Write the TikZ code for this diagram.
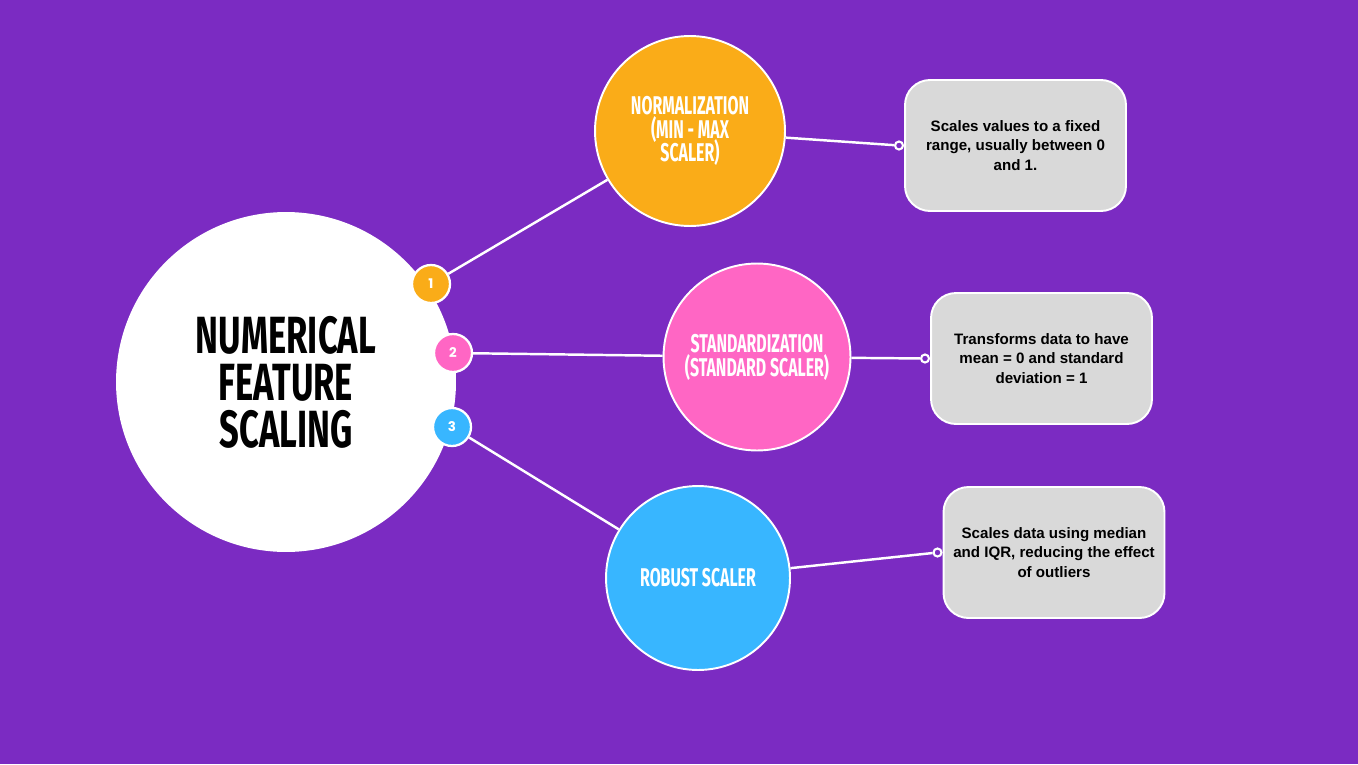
\documentclass[tikz,border=0pt]{standalone}
\usepackage{fontspec}
\setmainfont{Liberation Sans}
\newfontfamily\headfont[FakeStretch=0.66]{Fira Sans}
\newfontfamily\topicfont[FakeStretch=0.62]{Fira Sans}
\newfontfamily\numfont{Poppins}
\usetikzlibrary{positioning}
\definecolor{fsPurple}{RGB}{123,43,194}
\definecolor{fsOrange}{RGB}{250,172,24}
\definecolor{fsPink}{RGB}{255,102,196}
\definecolor{fsBlue}{RGB}{56,182,255}
\definecolor{fsGrey}{RGB}{217,217,217}
\lineskiplimit=-50pt
\tikzset{
 fs link/.style={draw=white,line width=1.4pt},
 fs hub/.style={circle,fill=white,minimum size=6.8cm,inner sep=0pt,align=center,
                font=\headfont\bfseries\fontsize{29.8}{26.8}\selectfont},
 fs topic/.style={circle,draw=white,line width=1.1pt,inner sep=0pt,align=center,
                  text=white,font=\topicfont\bfseries\fontsize{14.6}{13.6}\selectfont},
 fs badge/.style={circle,draw=white,line width=1.3pt,minimum size=.76cm,inner sep=0pt,
                  text=white,font=\numfont\bfseries\fontsize{7.6}{8}\selectfont},
 fs box/.style={rectangle,rounded corners=.5cm,draw=white,line width=1.1pt,fill=fsGrey,
                minimum width=4.42cm,minimum height=2.62cm,align=center,
                font=\bfseries\fontsize{8.6}{11.3}\selectfont},
 fs dot/.style={circle,draw=white,fill=fsPurple,line width=1.2pt,minimum size=.16cm,
                inner sep=0pt}
}
\begin{document}
\begin{tikzpicture}[x=.02cm,y=-.02cm]
 \fill[fsPurple] (0,0) rectangle (1358,764);
 \useasboundingbox (0,0) rectangle (1358,764);
 \node[fs hub] (hub) at (286,382) {NUMERICAL\\FEATURE\\SCALING};
 % scalers
 \node[fs topic,fill=fsOrange,minimum size=3.8cm] (norm) at (690,131)
   {NORMALIZATION\\(MIN - MAX\\SCALER)};
 \node[fs topic,fill=fsPink,minimum size=3.74cm] (std) at (757,357)
   {STANDARDIZATION\\(STANDARD SCALER)};
 \node[fs topic,fill=fsBlue,minimum size=3.68cm] (rob) at (698,578) {ROBUST SCALER};
 \foreach \i/\x/\y/\c in {1/431/284/fsOrange,2/453/353/fsPink,3/452/427/fsBlue}
   \node[fs badge,fill=\c] (b\i) at (\x,\y) {\i};
 % descriptions
 \node[fs box] (d1) at (1015.5,145.5)
   {Scales values to a fixed\\range, usually between 0\\and 1.};
 \node[fs box] (d2) at (1041.5,358.5)
   {Transforms data to have\\mean = 0 and standard\\deviation = 1};
 \node[fs box] (d3) at (1054,552.5)
   {Scales data using median\\and IQR, reducing the effect\\of outliers};
 \foreach \i in {1,2,3}{\node[fs dot,left=0pt of d\i] (p\i) {};}
 \foreach \i/\t in {1/norm,2/std,3/rob}{
   \draw[fs link] (b\i) -- (\t);
   \draw[fs link] (\t) -- (p\i);
 }
\end{tikzpicture}
\end{document}
